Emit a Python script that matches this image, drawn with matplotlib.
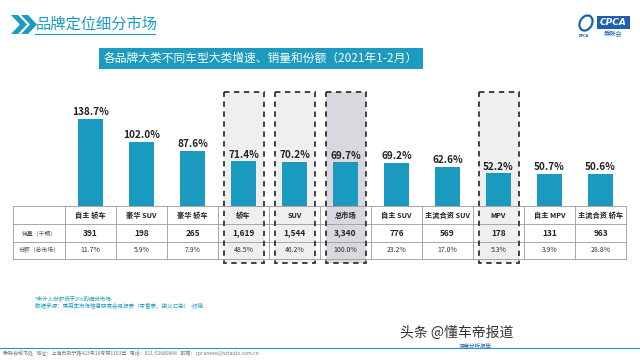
import matplotlib.pyplot as plt
from matplotlib.patches import Rectangle, Polygon, Ellipse

plt.rcParams['font.family'] = ['Noto Sans CJK SC', 'DejaVu Sans']

# data
categories = ['自主 轿车', '豪华 SUV', '豪华 轿车', '轿车', 'SUV', '总市场',
              '自主 SUV', '主流合资 SUV', 'MPV', '自主 MPV', '主流合资 轿车']
growth = [138.7, 102.0, 87.6, 71.4, 70.2, 69.7, 69.2, 62.6, 52.2, 50.7, 50.6]
sales = ['391', '198', '265', '1,619', '1,544', '3,340', '776', '569', '178', '131', '963']
share = ['11.7%', '5.9%', '7.9%', '48.5%', '46.2%', '100.0%', '23.2%', '17.0%', '5.3%', '3.9%', '28.8%']
row_labels = ['销量（千辆）', '份额（总市场）']
boxed = [3, 4, 5, 8]
total_idx = 5

teal = '#1a9bbf'
bar_color = '#1b9ac0'

fig = plt.figure(figsize=(6.4, 3.6), dpi=100)
fig.patch.set_facecolor('white')

# background / annotation layer in pixel coords
ax0 = fig.add_axes([0, 0, 1, 1])
ax0.set_xlim(0, 640)
ax0.set_ylim(360, 0)
ax0.axis('off')

# header chevrons + title
for dx in (0, 10):
    ax0.add_patch(Polygon([(11 + dx, 15), (18 + dx, 15), (27 + dx, 24.5),
                           (18 + dx, 34), (11 + dx, 34), (20 + dx, 24.5)],
                          closed=True, color=teal, lw=0))
ax0.text(36, 24.5, '品牌定位细分市场', color=teal, fontsize=11, va='center', ha='left')
ax0.plot([35, 155], [34, 34], color=teal, lw=0.8)

# logo
ax0.add_patch(Ellipse((586, 23), 12, 16, angle=30, fill=False, edgecolor='#1f5fb0', lw=1.6))
ax0.add_patch(Rectangle((597, 16), 33, 13, color='#1f5fb0', lw=0))
ax0.text(613.5, 22.5, 'CPCA', color='white', fontsize=6.5, fontweight='bold',
         fontstyle='italic', ha='center', va='center', family='DejaVu Sans')
ax0.text(613.5, 34, '乘联会', color='#1f5fb0', fontsize=4.5, ha='center', va='center')
ax0.text(584, 36, 'CPCA', color='#1f5fb0', fontsize=2.5, ha='center', va='center',
         family='DejaVu Sans', fontweight='bold')

# banner
ax0.add_patch(Rectangle((99, 48), 324, 21, color=teal, lw=0))
ax0.text(261, 58.5, '各品牌大类不同车型大类增速、销量和份额（2021年1-2月）',
         color='white', fontsize=8.5, ha='center', va='center')

# table geometry
x_left, x_lab, col_w = 13, 65, 51
rows_y = [206, 224, 242, 259]


def cx(i):
    return x_lab + col_w * (i + 0.5)


# shaded columns
for i in boxed:
    fc = '#d8d8de' if i == total_idx else '#efefef'
    ax0.add_patch(Rectangle((cx(i) - 20, 92), 40, 171, facecolor=fc, lw=0, zorder=0))

# table grid
for y in rows_y:
    ax0.plot([x_left, x_lab + col_w * len(categories)], [y, y], color='#9a9a9a', lw=0.6, zorder=2)
for k in range(len(categories) + 1):
    x = x_lab + col_w * k
    ax0.plot([x, x], [rows_y[0], rows_y[-1]], color='#9a9a9a', lw=0.6, zorder=2)
ax0.plot([x_left, x_left], [rows_y[0], rows_y[-1]], color='#9a9a9a', lw=0.6, zorder=2)

# table text
for i, c in enumerate(categories):
    ax0.text(cx(i), (rows_y[0] + rows_y[1]) / 2, c, fontsize=5.2, fontweight='bold',
             ha='center', va='center', color='#222222', zorder=3)
    ax0.text(cx(i), (rows_y[1] + rows_y[2]) / 2, sales[i], fontsize=6, fontweight='bold',
             ha='center', va='center', color='#222222', zorder=3)
    ax0.text(cx(i), (rows_y[2] + rows_y[3]) / 2, share[i], fontsize=5,
             ha='center', va='center', color='#333333', zorder=3)
for r, lab in enumerate(row_labels):
    ax0.text((x_left + x_lab) / 2, (rows_y[r + 1] + rows_y[r + 2]) / 2, lab, fontsize=4.2,
             ha='center', va='center', color='#555555', zorder=3)

# dashed boxes
for i in boxed:
    ax0.add_patch(Rectangle((cx(i) - 20, 92), 40, 171, fill=False, edgecolor='#333333',
                            lw=1.3, linestyle=(0, (3, 2.5)), zorder=4))

# notes and footer
ax0.text(35, 298, '*未计入份额低于2%的细分市场', fontsize=4, color=teal, va='center')
ax0.text(35, 306, '数据来源：乘用车市场信息联席会月报表（零售表，狭义汇总） -终稿', fontsize=4,
         color=teal, va='center')
ax0.plot([0, 640], [347.5, 347.5], color=teal, lw=0.8)
ax0.text(3, 353.5, '乘联会秘书处   地址：上海市武宁路423号18号楼1103室   电话：021-52680968   '
         '邮箱：cpcanews@sxtauto.com.cn', fontsize=3.6, color='#777777', va='center')
ax0.text(513, 333, '头条 @懂车帝报道', fontsize=10, color='#333333', ha='right', va='center')
ax0.text(475, 346, '深度分析报告', fontsize=4, color='#1f5fb0', ha='center', va='center',
         fontstyle='italic')

# bar chart
ax = fig.add_axes([x_lab / 640, (360 - 206) / 360, col_w * len(categories) / 640, 100 / 360])
ax.patch.set_alpha(0)
x = range(len(categories))
bars = ax.bar(x, growth, width=0.49, color=bar_color, zorder=2)
ax.set_xlim(-0.5, len(categories) - 0.5)
ax.set_ylim(0, 160)
ax.axis('off')
for b, g in zip(bars, growth):
    ax.text(b.get_x() + b.get_width() / 2, g + 3, f'{g:.1f}%', ha='center', va='bottom',
            fontsize=7.2, fontweight='bold', color='#222222')

fig.savefig('out.png', dpi=100)
